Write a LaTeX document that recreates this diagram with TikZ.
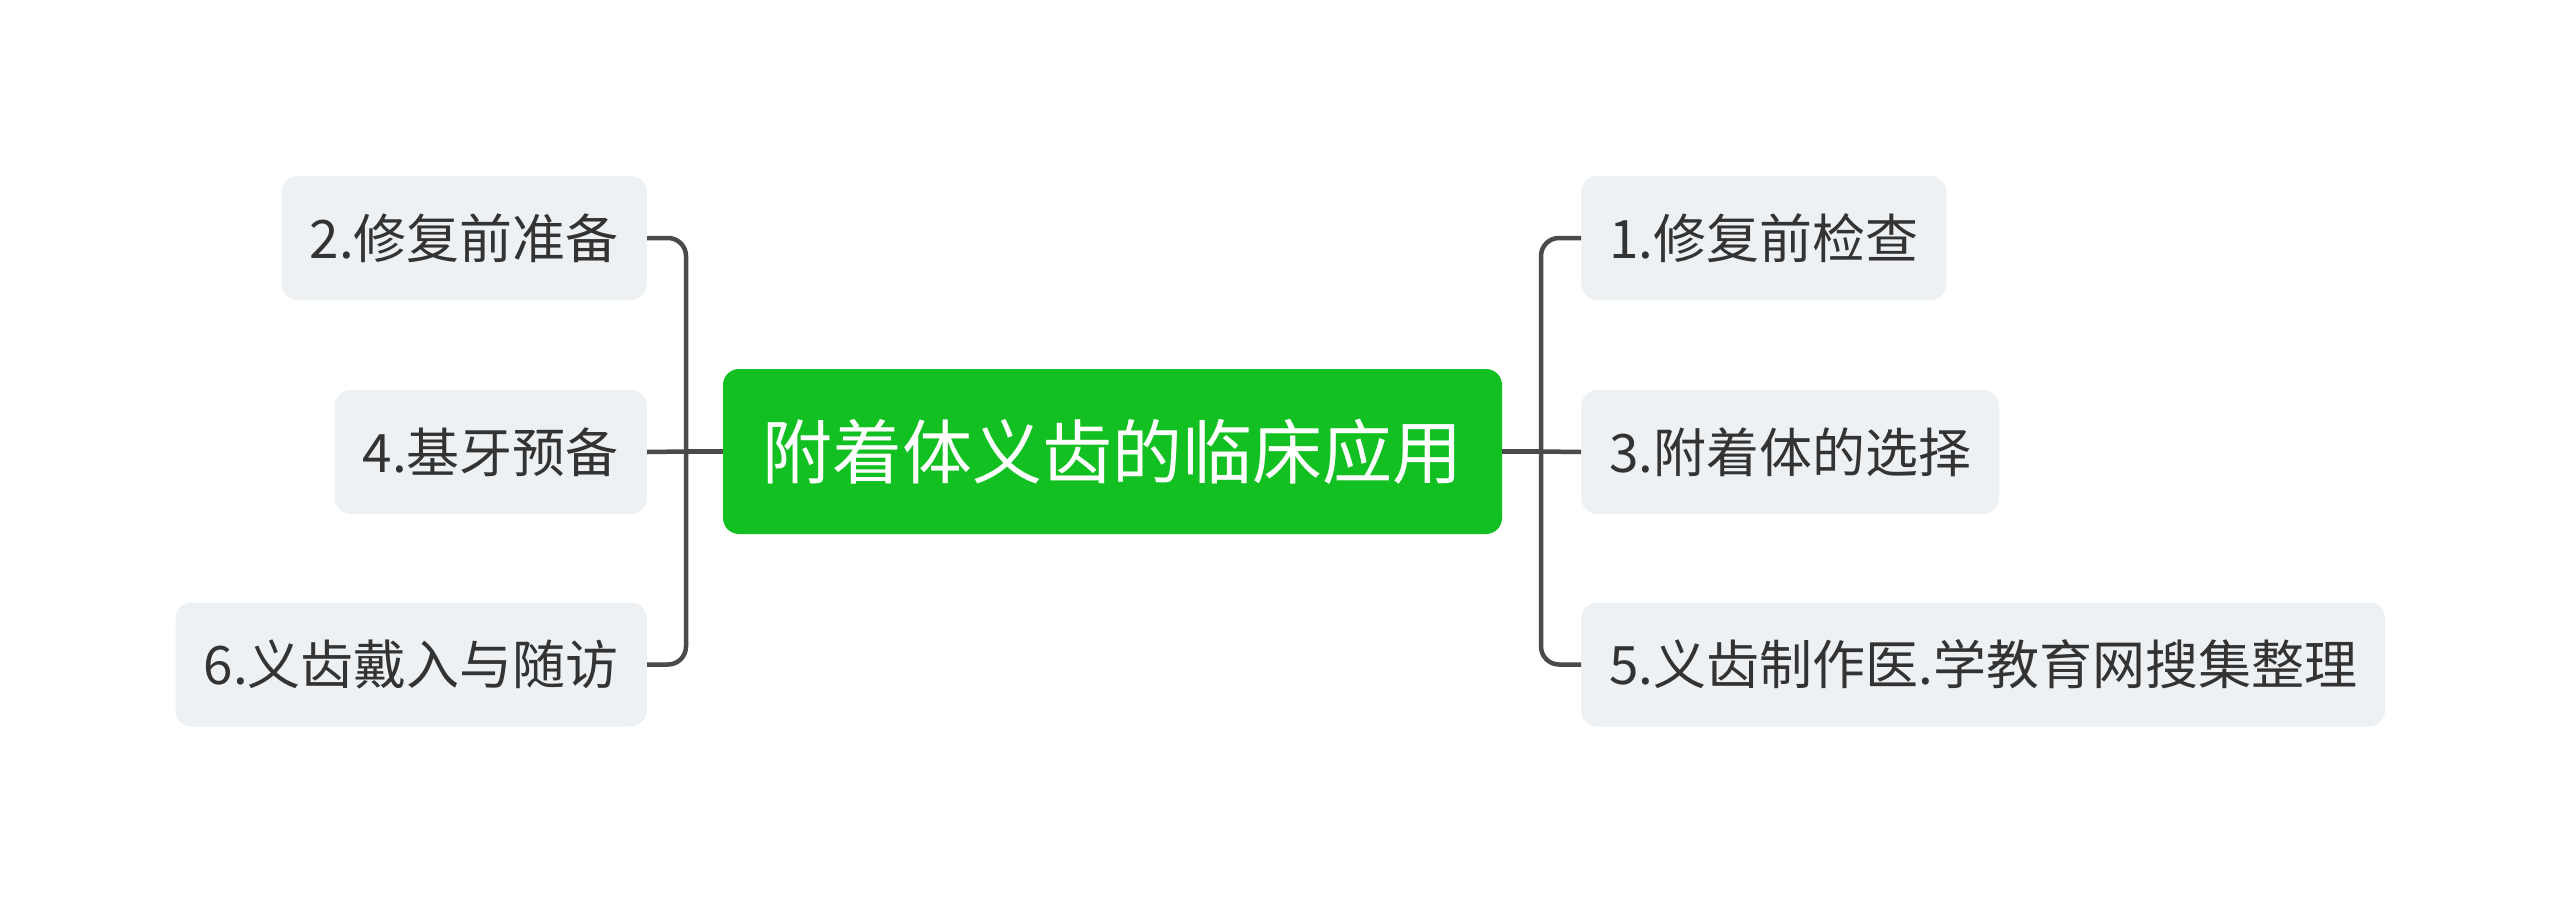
\documentclass[tikz,border=0pt]{standalone}
\usepackage{fontspec}
\newfontfamily\cjk{Noto Sans CJK SC}
\definecolor{rootgreen}{HTML}{12C121}
\definecolor{leafbg}{HTML}{EEF1F4}
\definecolor{leaftext}{HTML}{333333}
\definecolor{linecol}{HTML}{4A4A4A}
\begin{document}
\begin{tikzpicture}[x=1pt,y=-1pt,
  rootbox/.style={rectangle, rounded corners=16pt, fill=rootgreen, text=white,
    minimum width=779pt, minimum height=165pt, inner sep=0pt,
    font=\cjk\fontsize{70}{80}\selectfont},
  leafbox/.style={rectangle, rounded corners=16pt, fill=leafbg, text=leaftext,
    minimum height=124pt, inner xsep=28pt, inner ysep=0pt,
    font=\cjk\fontsize{53}{62}\selectfont},
  conn/.style={draw=linecol, line width=4.5pt, rounded corners=18pt}]
\path[use as bounding box, fill=white] (0,0) rectangle (2560,905);

\node[rootbox] (root) at (1112.5,451.5) {附着体义齿的临床应用};

\node[leafbox, anchor=east] (n2) at (647,238) {2.修复前准备};
\node[leafbox, anchor=east] (n4) at (647,452) {4.基牙预备};
\node[leafbox, anchor=east] (n6) at (647,664.5) {6.义齿戴入与随访};

\node[leafbox, anchor=west] (n1) at (1581,238) {1.修复前检查};
\node[leafbox, anchor=west] (n3) at (1581,452) {3.附着体的选择};
\node[leafbox, anchor=west] (n5) at (1581,664.5) {5.义齿制作医.学教育网搜集整理};

\coordinate (lj) at (686,451.5);
\coordinate (rj) at (1541,451.5);

\draw[conn] (root.west) -- (lj);
\draw[conn] (lj) |- (n2.east);
\draw[conn] (lj) -- (n4.east);
\draw[conn] (lj) |- (n6.east);

\draw[conn] (root.east) -- (rj);
\draw[conn] (rj) |- (n1.west);
\draw[conn] (rj) -- (n3.west);
\draw[conn] (rj) |- (n5.west);
\end{tikzpicture}
\end{document}
